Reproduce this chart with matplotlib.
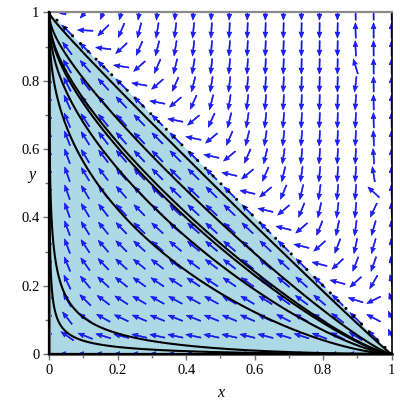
import numpy as np
import matplotlib
matplotlib.use("Agg")
import matplotlib.pyplot as plt
from matplotlib.patches import Polygon

# ---------------- data / model ----------------
c_z = 0.6            # relative fitness of the third type (z = 1 - x - y)
gamma_out = 2.0      # damping of the drift outside the simplex
k_out = 12.8         # strength of the vertical drift outside the simplex
x0_top = 0.87        # x where outside arrows switch from down to up (at y = 1)
x0_slope = 0.15      # shift of that switch per unit decrease of y
grid_n = 20          # arrows per side

# trajectories: seed points
seed_upper_y = 0.451
seed_upper_x = [0.177, 0.284, 0.345, 0.36, 0.43, 0.525]
seed_lower = [(0.197, 0.061), (0.197, 0.021)]

triangle = [(0, 0), (1, 0), (0, 1)]
diag_x = [0, 1]
diag_y = [1, 0]

xticks = [0, 0.2, 0.4, 0.6, 0.8, 1]
xticklabels = ["0", "0.2", "0.4", "0.6", "0.8", "1"]


def field(x, y):
    z = 1 - x - y
    u_in = -x * (y + c_z * z)
    v_in = y * (1 - y - c_z * z)
    w = np.exp(gamma_out * np.minimum(z, 0))
    x0 = x0_top + x0_slope * (1 - y)
    out = z < 0
    u = np.where(out, u_in * w, u_in)
    v = np.where(out, v_in * w + y * z * k_out * x * np.tanh((x0 - x) / 0.05), v_in)
    return u, v


def inside_field(p):
    x, y = p
    z = 1 - x - y
    return np.array([-x * (y + c_z * z), y * (1 - y - c_z * z)])


def integrate(p0, direction, h=0.002, nmax=4000):
    pts = [np.array(p0, float)]
    p = np.array(p0, float)
    def f(q):
        v = inside_field(q) * direction
        n = np.hypot(*v)
        return v / n if n > 1e-12 else v * 0
    for _ in range(nmax):
        k1 = f(p)
        k2 = f(p + 0.5 * h * k1)
        k3 = f(p + 0.5 * h * k2)
        k4 = f(p + h * k3)
        p = p + h / 6 * (k1 + 2 * k2 + 2 * k3 + k4)
        p = np.clip(p, 0, 1)
        pts.append(p.copy())
        if np.hypot(p[0] - 1, p[1]) < 0.002 or np.hypot(p[0], p[1] - 1) < 0.002:
            break
    return np.array(pts)


def trajectory(p0):
    fwd = integrate(p0, 1)
    bwd = integrate(p0, -1)
    return np.vstack([bwd[::-1], fwd[1:]])


fig = plt.figure(figsize=(4, 4), dpi=100)
ax = fig.add_axes([0.123, 0.115, 0.856, 0.854])
ax.set_xlim(0, 1)
ax.set_ylim(0, 1)

ax.add_patch(Polygon(triangle, closed=True, facecolor="#ADD8E6", edgecolor="none", zorder=0))

# direction field
g = np.linspace(0, 1, grid_n)
X, Y = np.meshgrid(g, g)
U, V = field(X, Y)
N = np.hypot(U, V)
mask = N > 1e-9
L = 0.045
Un = np.where(mask, U / np.where(mask, N, 1) * L, 0)
Vn = np.where(mask, V / np.where(mask, N, 1) * L, 0)
ax.quiver(X[mask], Y[mask], Un[mask], Vn[mask], angles="xy", scale_units="xy", scale=1,
          pivot="mid", color="#2020ff", edgecolor="#0000e0", linewidth=0.4,
          width=0.0032, headwidth=4.4, headlength=5.6, headaxislength=4.9, zorder=2)

# solution curves
for sx in seed_upper_x:
    t = trajectory((sx, seed_upper_y))
    ax.plot(t[:, 0], t[:, 1], color="black", lw=1.5, zorder=3)
for s in seed_lower:
    t = trajectory(s)
    ax.plot(t[:, 0], t[:, 1], color="black", lw=1.5, zorder=3)

# invariant edges
ax.plot([0, 0], [0, 1], color="black", lw=1.6, zorder=3, clip_on=False)
ax.plot([0, 1], [0, 0], color="black", lw=1.6, zorder=3, clip_on=False)
ax.plot(diag_x, diag_y, color="black", lw=2.2, linestyle=(0, (0.01, 3.6)),
        dash_capstyle="round", zorder=4)

# frame and ticks
for side in ["left", "bottom"]:
    ax.spines[side].set_color("#707070")
    ax.spines[side].set_linewidth(2.2)
ax.spines["top"].set_color("#8a8a8a")
ax.spines["top"].set_linewidth(1.6)
ax.spines["right"].set_color("black")
ax.spines["right"].set_linewidth(1.2)

ax.set_xticks(xticks)
ax.set_xticklabels(xticklabels)
ax.set_yticks(xticks)
ax.set_yticklabels(xticklabels)
ax.set_xticks(np.arange(0.1, 1.0, 0.2), minor=True)
ax.set_yticks(np.arange(0.1, 1.0, 0.2), minor=True)
ax.tick_params(which="both", direction="out", color="#707070", width=1.0)
ax.tick_params(which="major", length=4, pad=3)
ax.tick_params(which="minor", length=3)
for lab in ax.get_xticklabels() + ax.get_yticklabels():
    lab.set_family("Liberation Serif")
    lab.set_fontsize(10.5)

ax.set_xlabel("x", family="Liberation Serif", style="italic", fontsize=11.5)
ax.set_ylabel("y", family="Liberation Serif", style="italic", fontsize=11.5, rotation=0)
ax.xaxis.set_label_coords(0.5, -0.09)
ax.yaxis.set_label_coords(-0.05, 0.5)

fig.savefig("out.png", dpi=100)
